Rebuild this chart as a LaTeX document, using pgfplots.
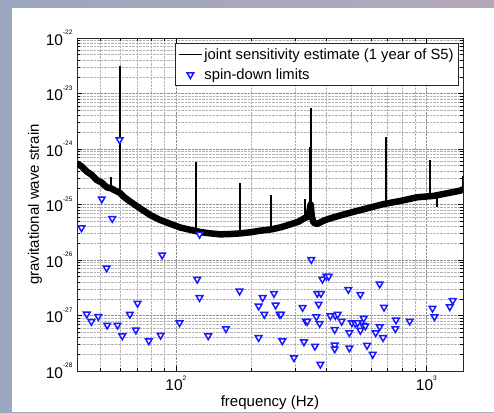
\documentclass[border=0pt]{standalone}
\usepackage{pgfplots}
\pgfplotsset{compat=1.18}
\usepackage{fontspec}
\setmainfont{Liberation Sans}
\newcommand{\tl}[1]{10\raisebox{10.5pt}{\fontsize{6.5}{6.5}\selectfont #1}}
\definecolor{bgL}{RGB}{155,167,192}
\definecolor{bgR}{RGB}{180,168,186}
\definecolor{mk}{RGB}{25,25,255}

\begin{document}
\begin{tikzpicture}
\useasboundingbox (0,0) rectangle (494pt,412pt);
\clip (0,0) rectangle (494pt,412pt);
\shade[left color=bgL, right color=bgR] (0,0) rectangle (494pt,412pt);
\fill[white] (12pt,0) rectangle (494pt,404pt);

\begin{axis}[
  at={(77pt,41pt)}, anchor=south west,
  scale only axis, width=386pt, height=333pt,
  xmode=log, ymode=log,
  xmin=40.3, xmax=1400, ymin=1e-28, ymax=1e-22,
  xtick={100,1000}, xticklabels={\tl{2},\tl{3}},
  minor xtick={50,60,70,80,90,200,300,400,500,600,700,800,900},
  ytick={1e-28,1e-27,1e-26,1e-25,1e-24,1e-23,1e-22},
  yticklabels={\tl{-28},\tl{-27},\tl{-26},\tl{-25},\tl{-24},\tl{-23},\tl{-22}},
  minor ytick={2e-28,3e-28,4e-28,5e-28,6e-28,7e-28,8e-28,9e-28,
               2e-27,3e-27,4e-27,5e-27,6e-27,7e-27,8e-27,9e-27,
               2e-26,3e-26,4e-26,5e-26,6e-26,7e-26,8e-26,9e-26,
               2e-25,3e-25,4e-25,5e-25,6e-25,7e-25,8e-25,9e-25,
               2e-24,3e-24,4e-24,5e-24,6e-24,7e-24,8e-24,9e-24,
               2e-23,3e-23,4e-23,5e-23,6e-23,7e-23,8e-23,9e-23},
  grid=both,
  major grid style={densely dotted, black!45, line width=0.5pt},
  minor grid style={densely dotted, black!30, line width=0.5pt},
  tick pos=both, tick align=inside,
  major tick length=5pt, minor tick length=3pt,
  every tick/.style={black, line width=0.6pt},
  axis line style={black!85, line width=1pt},
  tick label style={font=\fontsize{15.5}{17}\selectfont},
  xticklabel style={yshift=-1pt},
  yticklabel style={xshift=-1pt},
  label style={font=\fontsize{15}{17}\selectfont},
  xlabel={frequency (Hz)}, ylabel={gravitational wave strain},
  xlabel style={at={(axis description cs:0.5,-0.108)}, anchor=base},
  ylabel style={at={(axis description cs:-0.1088,0.5)}, anchor=center},
  legend cell align=left,
  legend style={at={(1,1)}, anchor=north east, xshift=-4pt, yshift=-5pt,
    draw=black!85, line width=0.8pt, fill=white, inner xsep=3pt, inner ysep=3pt,
    row sep=4pt, font=\fontsize{14.8}{16}\selectfont},
]

% noise floor of the detector (band centre)
\addplot[black, line width=6.5pt, line join=round, forget plot] table[row sep=\\] {
f h\\
40.3 5.55e-25\\ 42.1 4.83e-25\\ 44.1 3.92e-25\\ 46.2 3.41e-25\\ 48.3 2.77e-25\\
50.6 2.48e-25\\ 53.0 2.04e-25\\ 55.2 1.95e-25\\ 57.3 1.78e-25\\ 59.6 1.64e-25\\
61.8 1.39e-25\\ 65.7 1.13e-25\\ 72.0 8.53e-26\\ 79.0 6.47e-26\\ 86.6 5.26e-26\\
94.9 4.5e-26\\ 104.1 3.85e-26\\ 114.1 3.5e-26\\ 125.1 3.2e-26\\ 137.1 3.02e-26\\
150.4 2.90e-26\\ 164.8 2.94e-26\\ 180.7 3.02e-26\\ 198.2 3.16e-26\\ 217.3 3.38e-26\\
239.7 3.56e-26\\ 261.1 3.87e-26\\ 286.2 4.39e-26\\ 309.0 4.91e-26\\ 322 5.5e-26\\
335.7 6.04e-26\\ 341 7.5e-26\\ 345 1.0e-25\\ 349 6.0e-26\\ 354.7 4.71e-26\\
365.7 4.46e-26\\ 395.0 5.26e-26\\ 426.4 5.88e-26\\ 497.0 7.13e-26\\ 579.4 8.53e-26\\
675.6 1.02e-25\\ 787.3 1.16e-25\\ 917.8 1.35e-25\\ 1070 1.43e-25\\ 1247 1.64e-25\\
1367 1.78e-25\\ 1400 1.9e-25\\
};

% narrow lines
\addplot[black, line width=1.8pt, unbounded coords=jump,
  legend image code/.code={\draw[black, line width=1pt] (0pt,0pt) -- (23pt,0pt);}]
  coordinates {
  (55.2,2.04e-25) (55.2,3.18e-25) (55.2,nan)
  (60,1.75e-25) (60,3.08e-23) (60,nan)
  (120,3.4e-26) (120,5.94e-25) (120,nan)
  (180,3e-26) (180,2.48e-25) (180,nan)
  (240,3.5e-26) (240,1.49e-25) (240,nan)
  (327.6,5e-26) (327.6,1.26e-25) (327.6,nan)
  (345,6e-26) (345,5.45e-24) (345,nan)
  (690,1.0e-25) (690,1.63e-24) (690,nan)
  (1030,1.4e-25) (1030,6.37e-25) (1030,nan)
  (1103,1.4e-25) (1103,9.1e-26) (1103,nan)
  (1400,2e-25) (1400,3.2e-25)
  };
\addlegendentry{joint sensitivity estimate (1 year of S5)}

\addplot[black, line width=3.5pt, forget plot] coordinates {(345,8e-26) (345,1.11e-24)};

% spin-down upper limits of known pulsars
\addplot[only marks, mark=triangle*, mark size=3.8pt,
  mark options={rotate=180, draw=mk, fill=white, line width=1.5pt},
  legend image code/.code={\draw[mark=triangle*, mark size=3.8pt,
    mark options={rotate=180, draw=mk, fill=white, line width=1.5pt}]
    plot coordinates {(11.5pt,0pt)};}]
  table[row sep=\\] {
f h\\
42.0 3.8e-26\\ 50.6 1.26e-25\\ 55.7 5.6e-26\\ 52.9 7.2e-27\\ 59.6 1.46e-24\\
88.1 1.23e-26\\ 124.3 2.9e-26\\ 121.7 4.5e-27\\ 124.3 2.1e-27\\ 44.1 1.06e-27\\
46.0 7.8e-28\\ 49.0 9.6e-28\\ 53.2 6.7e-28\\ 58.5 6.7e-28\\ 61.1 4.3e-28\\
65.5 1.05e-27\\ 70.3 1.66e-27\\ 69.2 5.5e-28\\ 78.0 3.5e-28\\ 86.9 4.4e-28\\
103.4 7.4e-28\\ 134.6 4.3e-28\\ 158.4 5.8e-28\\ 179.6 2.75e-27\\ 213.9 1.48e-27\\
222.0 2.1e-27\\ 225.4 1.05e-27\\ 213.9 4.0e-28\\ 246.4 2.5e-27\\ 250.1 1.54e-27\\
259.4 1.05e-27\\ 262.6 1.05e-27\\ 265.9 3.5e-28\\ 296.0 1.74e-28\\ 320.5 1.4e-27\\
324.5 3.35e-28\\ 330.4 7.9e-28\\ 334.6 7.9e-28\\ 347.2 1.02e-26\\ 363.6 9.5e-28\\
359.0 2.8e-28\\ 366.9 2.5e-27\\ 379.4 2.5e-27\\ 371.5 1.6e-27\\ 374.9 7.2e-28\\
377.4 1.32e-28\\ 384.4 4.5e-27\\ 398.7 5.1e-27\\ 407.4 5.1e-27\\ 413.6 9.9e-28\\
430.5 5.6e-28\\ 433.0 1.0e-27\\ 442.4 1.05e-27\\ 459.0 7.9e-28\\ 430.5 2.93e-28\\
430.5 2.5e-28\\ 488.0 2.95e-27\\ 492.4 4.9e-28\\ 492.4 2.6e-28\\ 504.5 7.4e-28\\
520.3 7.2e-28\\ 531.7 7.4e-28\\ 545.0 2.4e-27\\ 545.0 5.4e-28\\ 561.9 8.9e-28\\
558.5 6.7e-28\\ 570.5 6.5e-28\\ 579.7 2.9e-28\\ 610.5 2.0e-28\\ 627.6 4.9e-28\\
651.1 3.7e-27\\ 651.1 6.3e-28\\ 671.4 4.0e-28\\ 677.6 1.41e-27\\ 751.8 5.8e-28\\
756.4 8.3e-28\\ 857.8 7.9e-28\\ 1057.6 1.35e-27\\ 1077 9.5e-28\\ 1240 1.44e-27\\
1274 1.86e-27\\
};
\addlegendentry{spin-down limits}
\end{axis}
\end{tikzpicture}
\end{document}
